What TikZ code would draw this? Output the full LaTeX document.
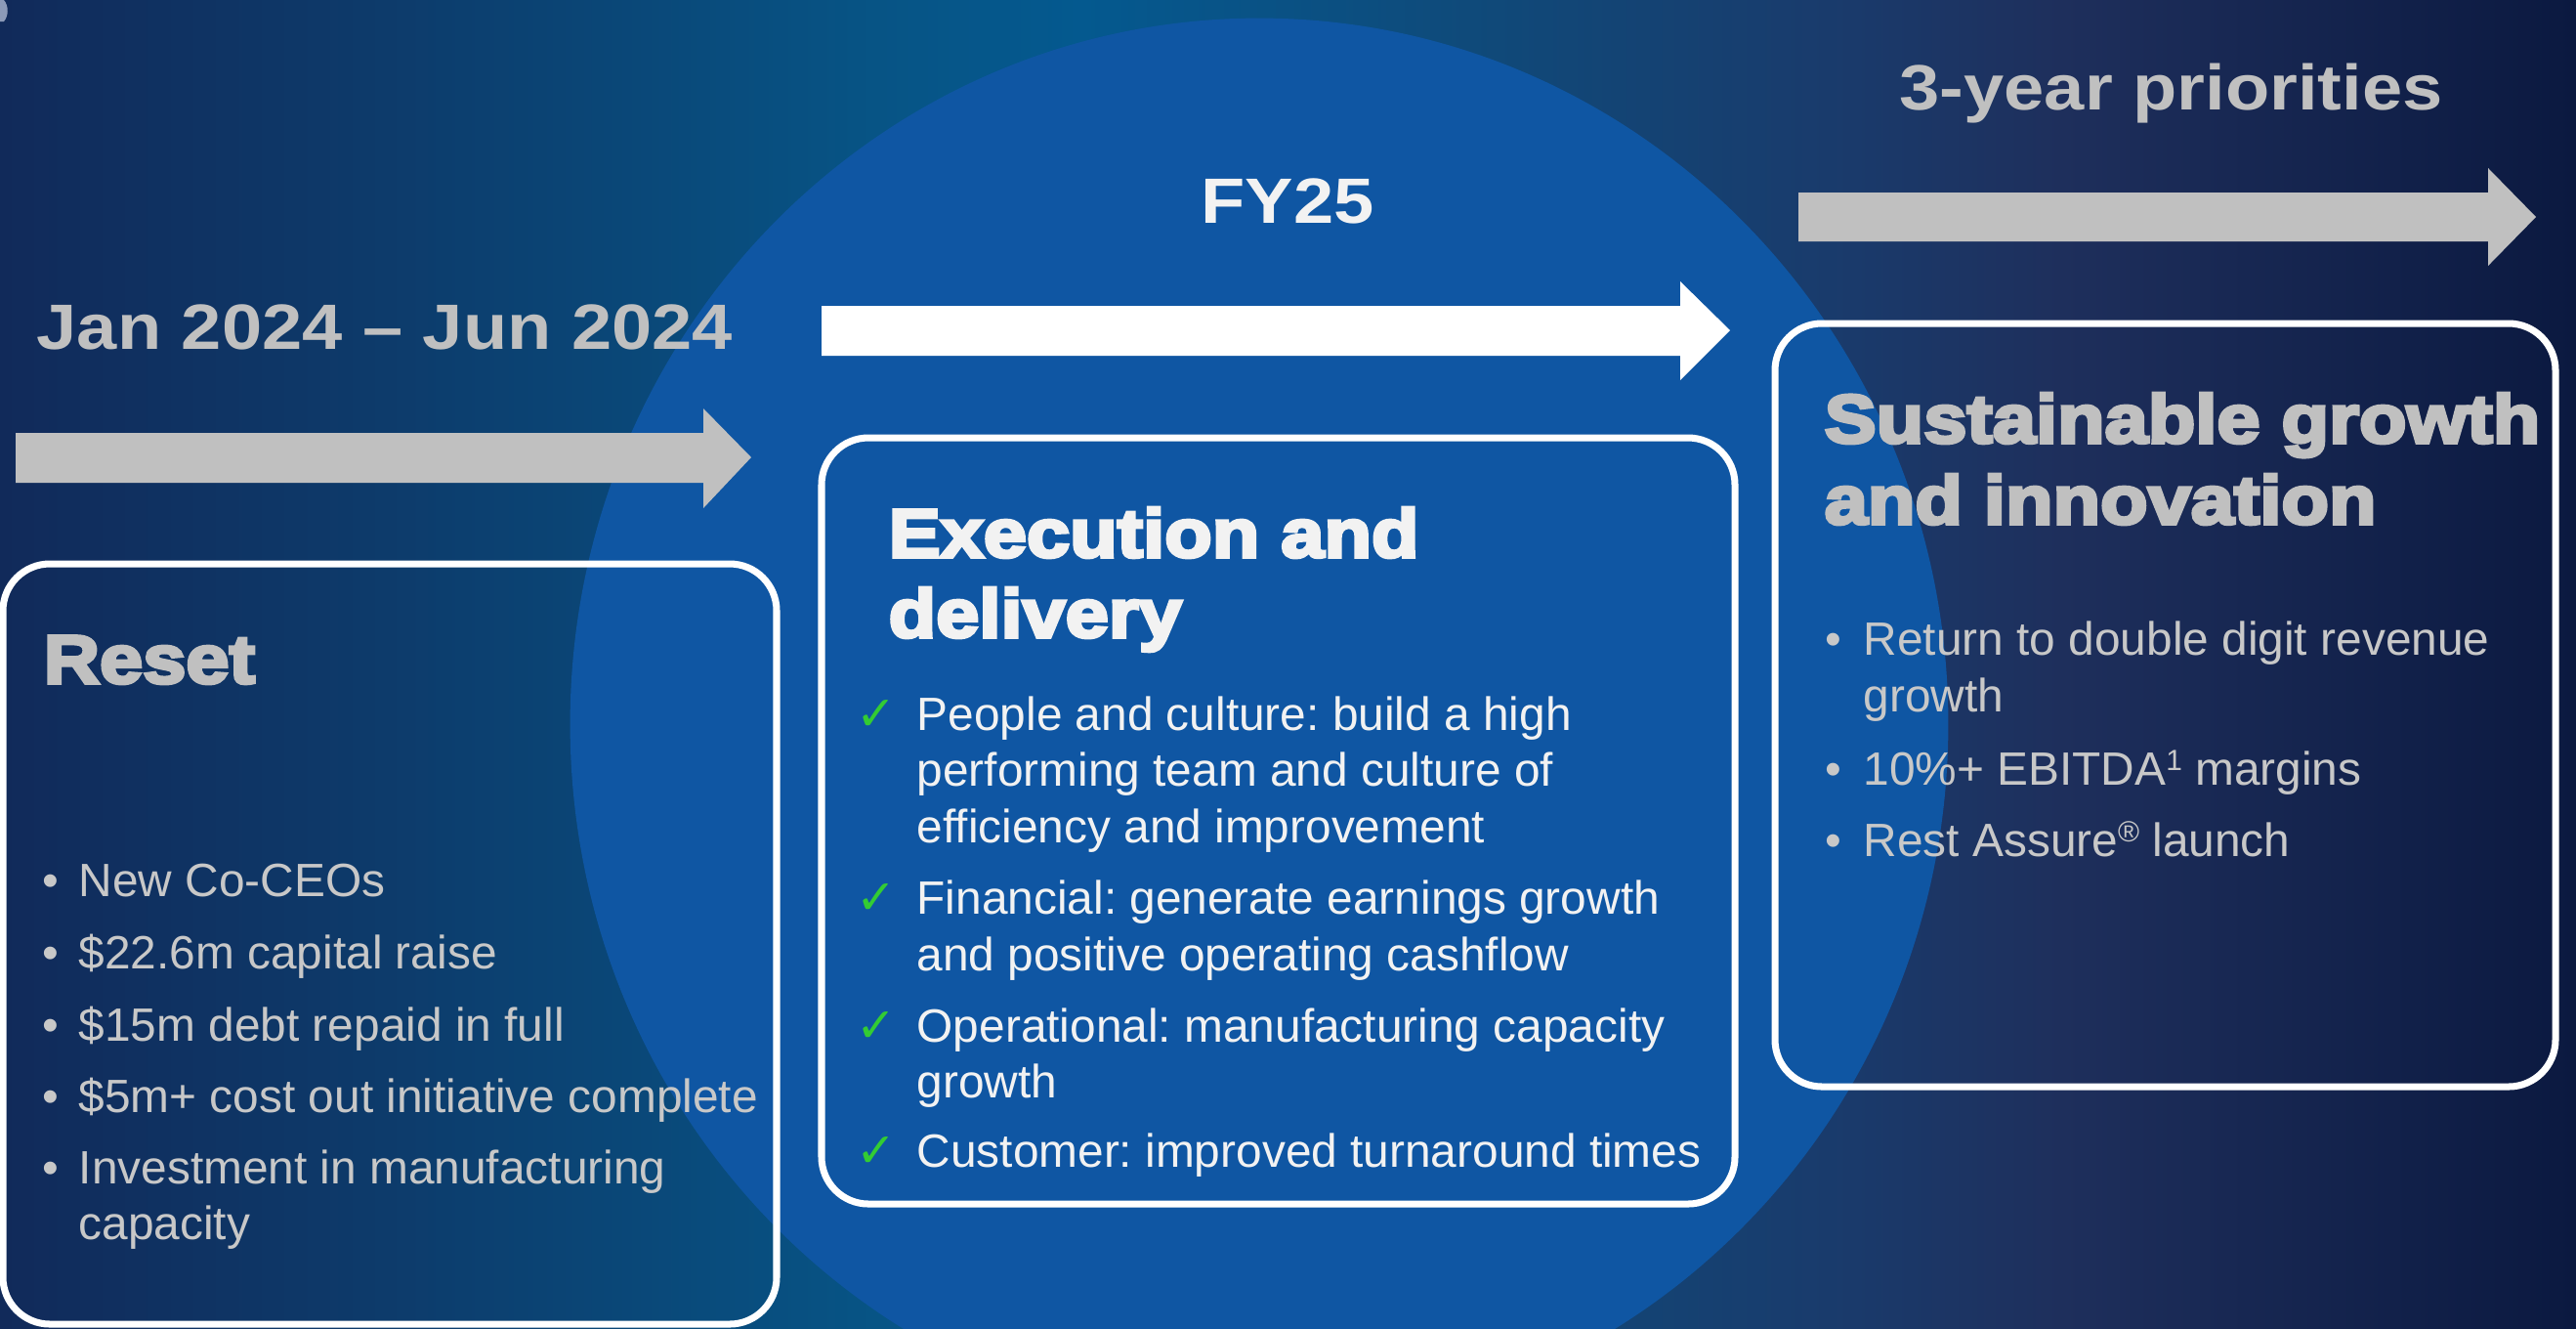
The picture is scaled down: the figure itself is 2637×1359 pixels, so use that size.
\documentclass[tikz,border=0pt]{standalone}
\usepackage{fontspec}
\setmainfont{Liberation Sans}
\newfontfamily\hdrfont{Liberation Sans}[FakeStretch=1.13]
\newfontfamily\ttlfont{Liberation Sans}[FakeStretch=1.135,FakeBold=5]
\newfontfamily\chkfont{DejaVu Sans}
\frenchspacing
\definecolor{c0}{HTML}{112A5A}
\definecolor{c1}{HTML}{0D3B6B}
\definecolor{c2}{HTML}{075485}
\definecolor{c3}{HTML}{04598F}
\definecolor{c4}{HTML}{0F4A7A}
\definecolor{c5}{HTML}{1A3A6B}
\definecolor{c6}{HTML}{1E2F5C}
\definecolor{c7}{HTML}{0B1940}
\definecolor{circblue}{HTML}{0F56A3}
\definecolor{hdrgray}{HTML}{C0C0C0}
\definecolor{bodygray}{HTML}{C8C8C8}
\definecolor{midwhite}{HTML}{F2F2F2}
\definecolor{chkgreen}{HTML}{33CC33}
\definecolor{arrowgray}{HTML}{C0C0C0}
\definecolor{strayblue}{HTML}{8C9AB8}
\pgfdeclarehorizontalshading{bgshade}{100bp}{color(0bp)=(c0); color(25bp)=(c0); color(32.5bp)=(c1); color(42bp)=(c2); color(46bp)=(c3); color(53.5bp)=(c4); color(61bp)=(c5); color(65bp)=(c6); color(75bp)=(c7); color(100bp)=(c7)}
\newcommand\supone[1]{\raisebox{0.3em}{\fontsize{8.5}{9}\selectfont #1}}
\tikzset{
  boxline/.style={draw=white, line width=2pt, rounded corners=0.48cm},
  hdr/.style={anchor=base west, inner sep=0pt, font=\hdrfont\bfseries\fontsize{18.64}{22}\selectfont},
  ttl/.style={anchor=base west, inner sep=0pt, font=\ttlfont\bfseries\fontsize{19.9}{24}\selectfont},
  bodytxt/.style={anchor=base west, inner sep=0pt, font=\fontsize{13.6}{16}\selectfont},
  chk/.style={anchor=base west, inner sep=0pt, font=\chkfont\fontsize{14}{16}\selectfont, text=chkgreen},
}
\begin{document}
\begin{tikzpicture}[x=0.01cm,y=-0.01cm]
\useasboundingbox (0,0) rectangle (2637,1359);
\shade[shading=bgshade] (0,0) rectangle (2637,1359);
\fill[circblue] (1289,741) ellipse [x radius=7.05cm, y radius=7.22cm];
% stray marks at the left edge
\fill[strayblue] (0,0) -- (4,0) .. controls (9,6) and (9,16) .. (4,22) -- (0,22) -- cycle;
\fill[strayblue] (0,1120) rectangle (6,1136);
% block arrows
\fill[arrowgray] (16,443) -- (720,443) -- (720,418) -- (769,468) -- (720,520) -- (720,494) -- (16,494) -- cycle;
\fill[white] (841,313) -- (1720,313) -- (1720,288) -- (1771,338) -- (1720,389) -- (1720,364) -- (841,364) -- cycle;
\fill[arrowgray] (1841,197) -- (2547,197) -- (2547,172) -- (2596,222) -- (2547,272) -- (2547,247) -- (1841,247) -- cycle;
% boxes
\draw[boxline] (3,577) rectangle (795,1355);
\draw[boxline] (841,448) rectangle (1776,1232);
\draw[boxline] (1817,331) rectangle (2616,1112);
% headers
\node[hdr,text=hdrgray] (h1) at (37,357) {Jan 2024 – Jun 2024};
\node[hdr,text=midwhite] (h2) at (1229,228) {FY25};
\node[hdr,text=hdrgray] (h3) at (1944,112) {3-year priorities};
% titles
\node[ttl,text=hdrgray] (t1) at (44,699) {Reset};
\node[ttl,text=midwhite] (t2a) at (909,570) {Execution and};
\node[ttl,text=midwhite] (t2b) at (909,652) {delivery};
\node[ttl,text=hdrgray] (t3a) at (1867,453) {Sustainable growth};
\node[ttl,text=hdrgray] (t3b) at (1867,536) {and innovation};
% left list
\node[bodytxt,text=bodygray] (lb1) at (43,917) {•};
\node[bodytxt,text=bodygray] (l1) at (80,917) {New Co-CEOs};
\node[bodytxt,text=bodygray] (lb2) at (43,991) {•};
\node[bodytxt,text=bodygray] (l2) at (80,991) {\$22.6m capital raise};
\node[bodytxt,text=bodygray] (lb3) at (43,1065) {•};
\node[bodytxt,text=bodygray] (l3) at (80,1065) {\$15m debt repaid in full};
\node[bodytxt,text=bodygray] (lb4) at (43,1138) {•};
\node[bodytxt,text=bodygray] (l4) at (80,1138) {\$5m+ cost out initiative complete};
\node[bodytxt,text=bodygray] (lb5) at (43,1211) {•};
\node[bodytxt,text=bodygray] (l5a) at (80,1211) {Investment in manufacturing};
\node[bodytxt,text=bodygray] (l5b) at (80,1268) {capacity};
% middle list
\node[chk] (mc1) at (876,747) {✓};
\node[bodytxt,text=midwhite] (m1a) at (938,747) {People and culture: build a high};
\node[bodytxt,text=midwhite] (m1b) at (938,804) {performing team and culture of};
\node[bodytxt,text=midwhite] (m1c) at (938,862) {efficiency and improvement};
\node[chk] (mc2) at (876,935) {✓};
\node[bodytxt,text=midwhite] (m2a) at (938,935) {Financial: generate earnings growth};
\node[bodytxt,text=midwhite] (m2b) at (938,993) {and positive operating cashflow};
\node[chk] (mc3) at (876,1066) {✓};
\node[bodytxt,text=midwhite] (m3a) at (938,1066) {Operational: manufacturing capacity};
\node[bodytxt,text=midwhite] (m3b) at (938,1123) {growth};
\node[chk] (mc4) at (876,1194) {✓};
\node[bodytxt,text=midwhite] (m4) at (938,1194) {Customer: improved turnaround times};
% right list
\node[bodytxt,text=bodygray] (rb1) at (1868,670) {•};
\node[bodytxt,text=bodygray] (r1a) at (1907,670) {Return to double digit revenue};
\node[bodytxt,text=bodygray] (r1b) at (1907,728) {growth};
\node[bodytxt,text=bodygray] (rb2) at (1868,803) {•};
\node[bodytxt,text=bodygray] (r2) at (1907,803) {10\%+ EBITDA\supone{1} margins};
\node[bodytxt,text=bodygray] (rb3) at (1868,876) {•};
\node[bodytxt,text=bodygray] (r3) at (1907,876) {Rest Assure\supone{®} launch};
\end{tikzpicture}
\end{document}
